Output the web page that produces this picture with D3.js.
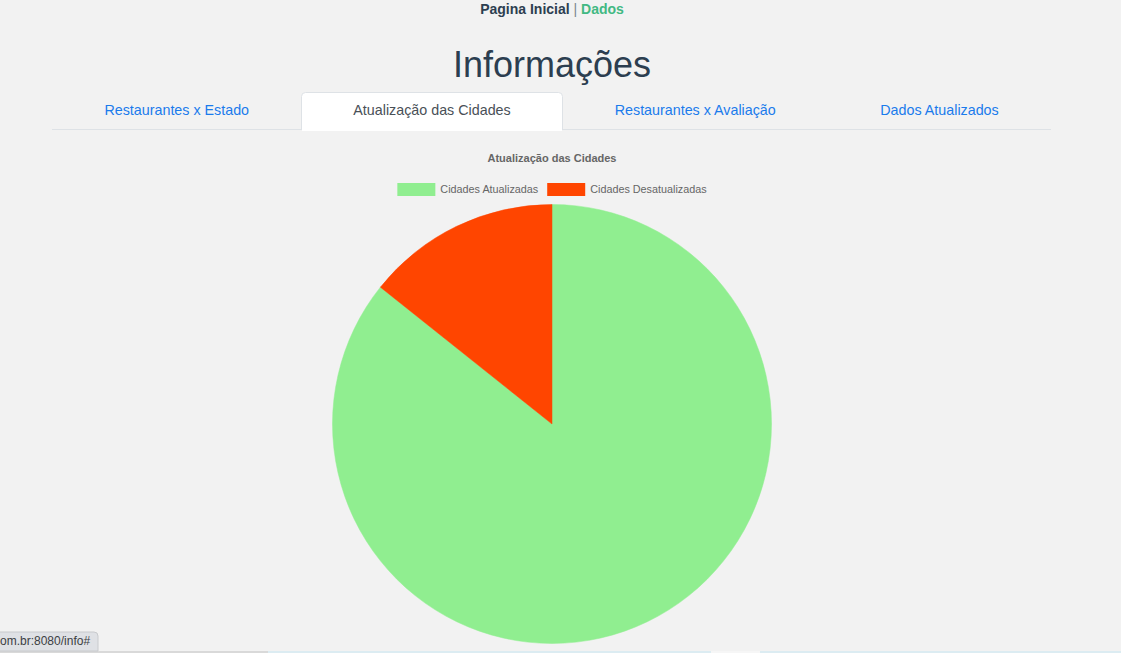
<!DOCTYPE html>
<html><head><meta charset="utf-8">
<script src="https://cdn.jsdelivr.net/npm/d3@7"></script>
<style>
html,body{margin:0;padding:0;background:#f2f2f2;overflow:hidden;}
svg{display:block;}
</style></head>
<body>
<svg id="c" width="1121" height="653"></svg>
<script>
const navLinks = ["Pagina Inicial", "Dados"];
const pageTitle = "Informações";
const tabs = ["Restaurantes x Estado", "Atualização das Cidades", "Restaurantes x Avaliação", "Dados Atualizados"];
const activeTab = 1;
const chartTitle = "Atualização das Cidades";
const categories = ["Cidades Atualizadas", "Cidades Desatualizadas"];
const values = [6, 1];
const colors = ["#90ee90", "#ff4500"];
const statusText = "om.br:8080/info#";

const svg = d3.select("#c");
const W = 1121, H = 653;
svg.append("rect").attr("width", W).attr("height", H).attr("fill", "#f2f2f2");

// top nav
const nav = svg.append("text").attr("x", 552).attr("y", 14).attr("text-anchor", "middle")
  .attr("font-family", "Liberation Sans, Arial, sans-serif").attr("font-size", 14).attr("font-weight", "bold");
nav.append("tspan").attr("fill", "#2c3e50").text(navLinks[0]);
nav.append("tspan").attr("fill", "#7a8590").attr("font-weight", "normal").text(" | ");
nav.append("tspan").attr("fill", "#42b983").text(navLinks[1]);

// page title
svg.append("text").attr("x", 552).attr("y", 76.5).attr("text-anchor", "middle")
  .attr("font-family", "Liberation Sans, Arial, sans-serif").attr("font-size", 36)
  .attr("fill", "#2c3e50").text(pageTitle);

// tabs
const tabEdges = [52, 301.5, 562.5, 828, 1051];
svg.append("line").attr("x1", 52).attr("x2", 1051).attr("y1", 129.5).attr("y2", 129.5)
  .attr("stroke", "#dee2e6").attr("stroke-width", 1);
tabs.forEach((t, i) => {
  const x0 = tabEdges[i], x1 = tabEdges[i + 1];
  if (i === activeTab) {
    const r = 4, y0 = 92.5, y1 = 130;
    svg.append("path")
      .attr("d", `M${x0},${y1} L${x0},${y0 + r} Q${x0},${y0} ${x0 + r},${y0} L${x1 - r},${y0} Q${x1},${y0} ${x1},${y0 + r} L${x1},${y1}`)
      .attr("fill", "#ffffff").attr("stroke", "#dee2e6").attr("stroke-width", 1);
    svg.append("rect").attr("x", x0 + 0.5).attr("y", 128).attr("width", x1 - x0 - 1).attr("height", 3).attr("fill", "#fff");
  }
  svg.append("text").attr("x", (x0 + x1) / 2).attr("y", 115).attr("text-anchor", "middle")
    .attr("font-family", "Liberation Sans, Arial, sans-serif").attr("font-size", 14.3)
    .attr("fill", i === activeTab ? "#495057" : "#1a7bec").text(t);
});

// chart title
svg.append("text").attr("x", 552).attr("y", 162).attr("text-anchor", "middle")
  .attr("font-family", "Liberation Sans, Helvetica, Arial, sans-serif").attr("font-size", 11)
  .attr("font-weight", "bold").attr("fill", "#666").text(chartTitle);

// legend
const legendFont = "Liberation Sans, Helvetica, Arial, sans-serif";
const lg = svg.append("g");
const tmp = svg.append("text").attr("font-family", legendFont).attr("font-size", 10.8);
const widths = categories.map(c => { tmp.text(c); return tmp.node().getComputedTextLength(); });
tmp.remove();
const boxW = 38, gapBox = 5, gapItem = 9;
const total = widths.reduce((a, w) => a + boxW + gapBox + w, 0) + gapItem * (categories.length - 1);
let lx = 552 - total / 2;
categories.forEach((c, i) => {
  lg.append("rect").attr("x", lx).attr("y", 183).attr("width", boxW).attr("height", 13).attr("fill", colors[i]);
  lg.append("text").attr("x", lx + boxW + gapBox).attr("y", 193).attr("font-family", legendFont)
    .attr("font-size", 10.8).attr("fill", "#666").text(c);
  lx += boxW + gapBox + widths[i] + gapItem;
});

// pie
const cx = 552, cy = 424, R = 219.5;
const pie = d3.pie().sort(null).value(d => d);
const arc = d3.arc().innerRadius(0).outerRadius(R);
svg.append("g").attr("transform", `translate(${cx},${cy})`)
  .selectAll("path").data(pie(values)).join("path")
  .attr("d", arc).attr("fill", (d, i) => colors[i])
  .attr("stroke", (d, i) => colors[i]).attr("stroke-width", 0.5);

// browser status bar & bottom strip
svg.append("rect").attr("x", 0).attr("y", 651).attr("width", 268).attr("height", 2).attr("fill", "#d9d9d9");
svg.append("rect").attr("x", 268).attr("y", 651).attr("width", 443).attr("height", 2).attr("fill", "#dcecf2");
svg.append("rect").attr("x", 711).attr("y", 651).attr("width", 49).attr("height", 2).attr("fill", "#f6f6f6");
svg.append("rect").attr("x", 760).attr("y", 651).attr("width", 361).attr("height", 2).attr("fill", "#dcecf2");
svg.append("path").attr("d", "M-1,651 L-1,632 L94,632 Q98,632 98,636 L98,651 Z")
  .attr("fill", "#dfe1e5").attr("stroke", "#c8cacd").attr("stroke-width", 1);
svg.append("text").attr("x", 0).attr("y", 645).attr("font-family", "Liberation Sans, Arial, sans-serif")
  .attr("font-size", 12).attr("fill", "#3c4043").text(statusText);
</script>
</body></html>
